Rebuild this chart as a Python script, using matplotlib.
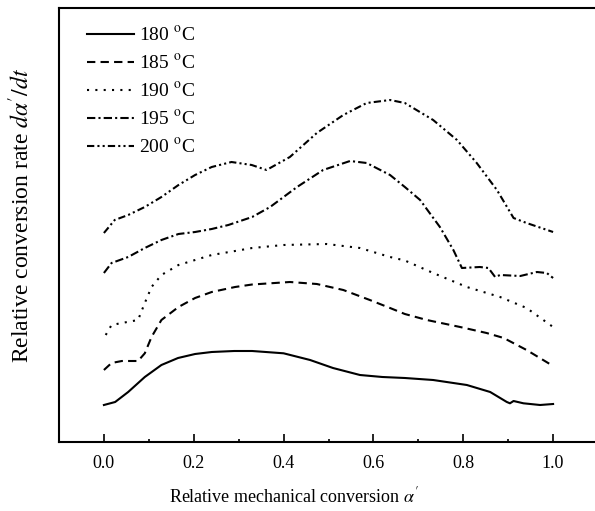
import matplotlib
matplotlib.use("Agg")
import matplotlib.pyplot as plt
from matplotlib.ticker import MultipleLocator, NullLocator

plt.rcParams['font.family'] = ['Liberation Serif', 'DejaVu Serif']
plt.rcParams['mathtext.fontset'] = 'stix'

# relative mechanical conversion (x) and relative conversion rate (arb. units)
x180 = [0.0, 0.025, 0.054, 0.091, 0.128, 0.165, 0.203, 0.24, 0.29, 0.33, 0.40, 0.459, 0.51,
        0.57, 0.62, 0.67, 0.733, 0.808, 0.86, 0.897, 0.904, 0.912, 0.934, 0.971, 1.0]
y180 = [0.37, 0.40, 0.50, 0.65, 0.77, 0.84, 0.88, 0.90, 0.91, 0.91, 0.887, 0.82, 0.74,
        0.67, 0.65, 0.64, 0.62, 0.57, 0.50, 0.40, 0.387, 0.41, 0.387, 0.37, 0.38]

x185 = [0.0, 0.017, 0.04, 0.076, 0.091, 0.106, 0.128, 0.166, 0.203, 0.24, 0.292, 0.33, 0.414,
        0.474, 0.533, 0.592, 0.637, 0.67, 0.719, 0.793, 0.852, 0.89, 0.941, 1.0]
y185 = [0.72, 0.79, 0.81, 0.81, 0.887, 1.05, 1.22, 1.35, 1.44, 1.50, 1.55, 1.575, 1.60,
        1.58, 1.52, 1.42, 1.34, 1.28, 1.22, 1.15, 1.09, 1.04, 0.92, 0.76]

x190 = [0.004, 0.017, 0.04, 0.076, 0.091, 0.106, 0.128, 0.166, 0.203, 0.24, 0.292, 0.33, 0.40,
        0.496, 0.57, 0.637, 0.67, 0.733, 0.808, 0.882, 0.941, 1.0]
y190 = [1.07, 1.17, 1.19, 1.22, 1.39, 1.55, 1.67, 1.77, 1.82, 1.87, 1.91, 1.94, 1.97,
        1.98, 1.94, 1.85, 1.815, 1.69, 1.55, 1.45, 1.34, 1.15]

x195 = [0.0, 0.017, 0.054, 0.091, 0.128, 0.166, 0.203, 0.24, 0.277, 0.33, 0.37, 0.43, 0.488,
        0.548, 0.585, 0.637, 0.67, 0.704, 0.748, 0.778, 0.797, 0.837, 0.856, 0.871, 0.882,
        0.927, 0.964, 0.986, 1.0]
y195 = [1.69, 1.79, 1.85, 1.94, 2.02, 2.08, 2.10, 2.13, 2.17, 2.25, 2.35, 2.55, 2.72,
        2.81, 2.79, 2.67, 2.55, 2.42, 2.15, 1.92, 1.74, 1.75, 1.74, 1.65, 1.67,
        1.66, 1.70, 1.69, 1.64]

x200 = [0.0, 0.024, 0.054, 0.091, 0.128, 0.166, 0.203, 0.24, 0.284, 0.329, 0.362, 0.414, 0.474,
        0.533, 0.585, 0.637, 0.67, 0.733, 0.786, 0.83, 0.875, 0.912, 0.941, 1.0]
y200 = [2.09, 2.22, 2.27, 2.35, 2.45, 2.57, 2.67, 2.75, 2.80, 2.77, 2.72, 2.85, 3.09,
        3.27, 3.39, 3.42, 3.39, 3.22, 3.02, 2.79, 2.52, 2.24, 2.19, 2.10]

labels = ['180 $^{\\rm o}$C', '185 $^{\\rm o}$C', '190 $^{\\rm o}$C', '195 $^{\\rm o}$C', '200 $^{\\rm o}$C']

fig = plt.figure(figsize=(5.95, 5.11), dpi=100)
ax = fig.add_axes([59 / 595, 69 / 511, 539 / 595, 434 / 511])

lw = 1.5
ax.plot(x180, y180, color='black', lw=lw, linestyle='-', label=labels[0])
ax.plot(x185, y185, color='black', lw=lw, linestyle=(0, (4, 2.5)), label=labels[1])
ax.plot(x190, y190, color='black', lw=lw, linestyle=(0, (1, 3)), label=labels[2])
ax.plot(x195, y195, color='black', lw=lw, linestyle=(0, (4, 1.5, 1, 1.5)), label=labels[3])
ax.plot(x200, y200, color='black', lw=lw, linestyle=(0, (3.5, 1.5, 1, 1.5, 1, 1.5)), label=labels[4])

ax.set_xlim(-0.1, 1.1)
ax.set_ylim(0, 4.34)

ax.xaxis.set_major_locator(MultipleLocator(0.2))
ax.xaxis.set_minor_locator(MultipleLocator(0.1))
ax.yaxis.set_major_locator(NullLocator())
ax.tick_params(axis='x', which='major', direction='in', length=5.5, width=1.2, labelsize=13, pad=9)
ax.tick_params(axis='x', which='minor', direction='in', length=2.5, width=1.2)
for s in ax.spines.values():
    s.set_linewidth(1.5)

ax.set_xlabel("Relative mechanical conversion $\\alpha'$", fontsize=13, va='center')
ax.xaxis.set_label_coords((294 - 59) / 539, -(496 - 442) / 434)
ax.set_ylabel("Relative conversion rate $d\\alpha'/dt$", fontsize=17, va='center')
ax.yaxis.set_label_coords(-(59 - 21) / 539, (442 - 215) / 434)

ax.legend(loc='upper left', frameon=False, fontsize=14, handlelength=2.4,
          handletextpad=0.25, labelspacing=0.47, borderaxespad=0.5,
          bbox_to_anchor=(0.02, 1.0))

fig.savefig('out.png', dpi=100)
